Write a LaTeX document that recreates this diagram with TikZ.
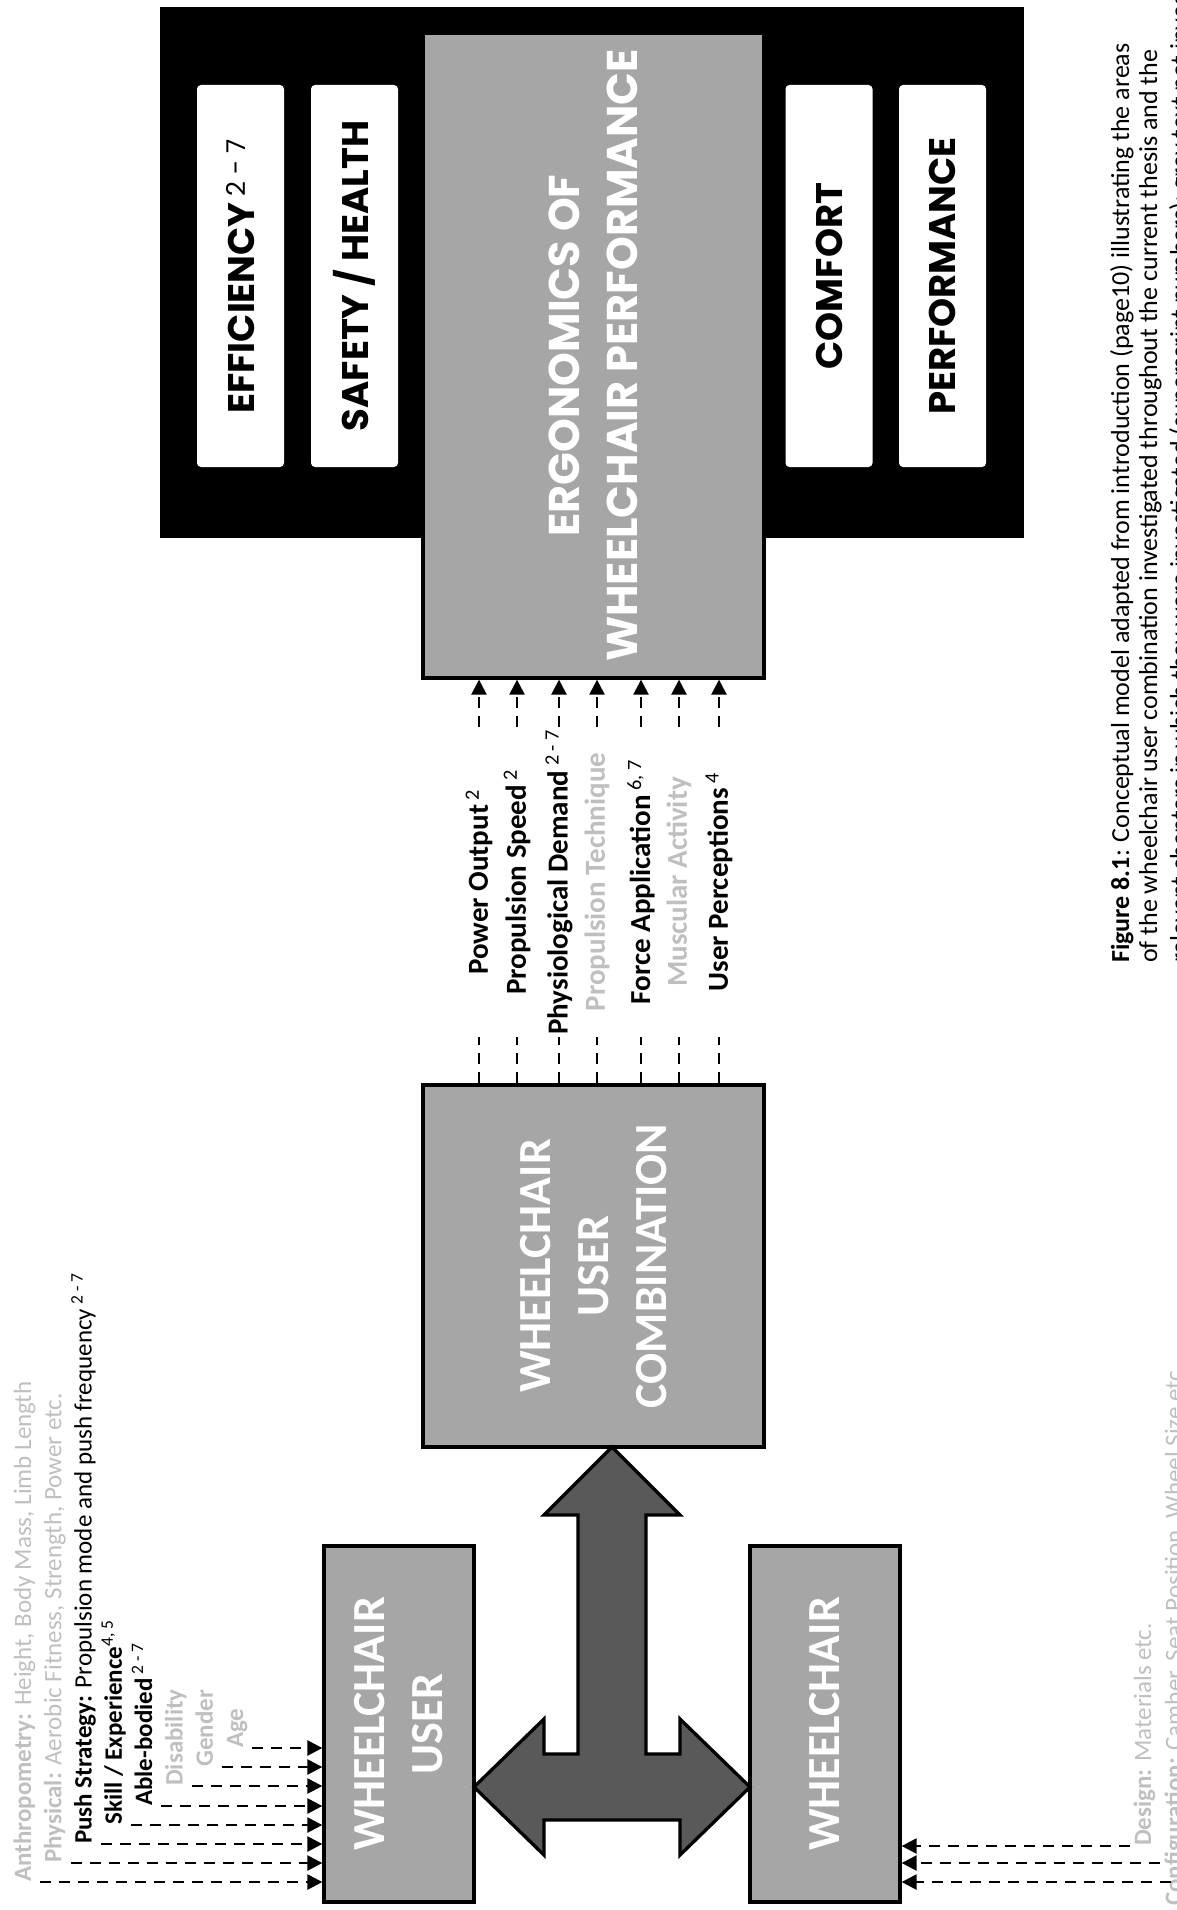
\documentclass[tikz,border=0pt]{standalone}
\usepackage{fontspec}
\setmainfont{Carlito}
\newfontfamily\geofont{Poppins}
\usepackage{tikz}
\usetikzlibrary{arrows.meta,positioning}
\definecolor{boxgrey}{HTML}{A6A6A6}
\definecolor{tgrey}{HTML}{595959}
\definecolor{faint}{HTML}{BFBFBF}
\tikzset{
  blk/.style={draw, line width=3.3pt, fill=boxgrey, text=white, rotate=90, inner sep=0pt, align=center, font=\fontsize{46}{58}\selectfont\bfseries},
  pane/.style={fill=white, rounded corners=4pt, rotate=90, inner sep=0pt, minimum width=382pt, minimum height=87pt, font=\geofont\fontsize{37}{44}\selectfont\bfseries},
  tag/.style={rotate=90, anchor=base west, inner sep=0pt, font=\fontsize{25}{30}\selectfont, execute at begin node=\strut},
  outc/.style={rotate=90, inner sep=0pt, minimum width=310pt, font=\fontsize{29}{34}\selectfont\bfseries},
  feed/.style={line width=2.5pt, dash pattern=on 11pt off 8pt, -{Triangle[length=15pt,width=15pt]}},
  stub/.style={line width=2.5pt, dash pattern=on 11pt off 8pt},
  capline/.style={rotate=90, anchor=base west, inner sep=0pt, font=\fontsize{26}{31}\selectfont}
}
\newcommand{\ssup}[1]{\,\textsuperscript{\mdseries #1}}

\begin{document}
\begin{tikzpicture}[x=1pt, y=-1pt]
\useasboundingbox (0,0) rectangle (1176,1910);
\clip (0,0) rectangle (1176,1910);
% outcomes
\node[fill=black, minimum width=864pt, minimum height=531pt, inner sep=0pt] (frame) at (592,272.5) {};
\node[pane] (eff) at (240.5,276) {EFFICIENCY\ssup{2 - 7}};
\node[pane] (safe) at (354.5,276) {SAFETY / HEALTH};
\node[pane] (comf) at (829,276) {COMFORT};
\node[pane] (perf) at (942.5,276) {PERFORMANCE};
\node[blk, minimum width=645pt, minimum height=341pt, font=\geofont\fontsize{43}{58}\selectfont\bfseries] (ergo) at (593.5,355.5) {ERGONOMICS OF\\WHEELCHAIR PERFORMANCE};
% measured outcomes
\node[outc] (pow) at (479,882) {Power Output\ssup{2}};
\node[outc] (spd) at (517,882) {Propulsion Speed\ssup{2}};
\node[outc] (phy) at (559,882) {Physiological Demand\ssup{2 - 7}};
\node[outc, text=faint] (tec) at (597,882) {Propulsion Technique};
\node[outc] (frc) at (641,882) {Force Application\ssup{6, 7}};
\node[outc, text=faint] (mus) at (679,882) {Muscular Activity};
\node[outc] (per) at (719,882) {User Perceptions\ssup{4}};
\node[blk, minimum width=362pt, minimum height=341pt] (comb) at (593.5,1266) {WHEELCHAIR\\USER\\COMBINATION};
\draw[feed] (pow.east) -- (pow.east |- ergo.west); \draw[feed] (spd.east) -- (spd.east |- ergo.west);
\draw[feed] (phy.east) -- (phy.east |- ergo.west); \draw[feed] (tec.east) -- (tec.east |- ergo.west);
\draw[feed] (frc.east) -- (frc.east |- ergo.west); \draw[feed] (mus.east) -- (mus.east |- ergo.west);
\draw[feed] (per.east) -- (per.east |- ergo.west);
\draw[stub] (pow.west |- comb.east) -- (pow.west); \draw[stub] (spd.west |- comb.east) -- (spd.west);
\draw[stub] (phy.west |- comb.east) -- (phy.west); \draw[stub] (tec.west |- comb.east) -- (tec.west);
\draw[stub] (frc.west |- comb.east) -- (frc.west); \draw[stub] (mus.west |- comb.east) -- (mus.west);
\draw[stub] (per.west |- comb.east) -- (per.west);
% user and chair
\node[blk, minimum width=356pt, minimum height=150pt] (wcu) at (399,1724) {WHEELCHAIR\\USER};
\node[blk, minimum width=356pt, minimum height=150pt] (wc) at (825,1724) {WHEELCHAIR};
\draw[line width=3.3pt, fill=tgrey, line join=miter] (612,1447) -- (680,1515) -- (646,1515) -- (646,1754) -- (680,1754) -- (680,1719)
  -- (750,1787) -- (680,1855) -- (680,1820) -- (544,1820) -- (544,1855) -- (474,1787) -- (544,1719) -- (544,1754)
  -- (578,1754) -- (578,1515) -- (544,1515) -- cycle;
% user factors
\node[tag, text=faint] (anth) at (31,1882) {\textbf{Anthropometry:} Height, Body Mass, Limb Length};
\node[tag, text=faint] (phys) at (61.3,1863) {\textbf{Physical:} Aerobic Fitness, Strength, Power etc.};
\node[tag] (push) at (91.6,1844) {\textbf{Push Strategy:} Propulsion mode and push frequency\ssup{2 - 7}};
\node[tag] (skil) at (121.9,1825) {\textbf{Skill / Experience}\textsuperscript{4, 5}};
\node[tag] (able) at (152.2,1806) {\textbf{Able-bodied}\ssup{2 - 7}};
\node[tag, text=faint] (disa) at (182.5,1786) {\textbf{Disability}};
\node[tag, text=faint] (gend) at (212.8,1767) {\textbf{Gender}};
\node[tag, text=faint] (age) at (243.1,1748) {\textbf{Age}};
\draw[feed] (anth.south west) -- (anth.south west -| wcu.north); \draw[feed] (phys.south west) -- (phys.south west -| wcu.north);
\draw[feed] (push.south west) -- (push.south west -| wcu.north); \draw[feed] (skil.south west) -- (skil.south west -| wcu.north);
\draw[feed] (able.south west) -- (able.south west -| wcu.north); \draw[feed] (disa.south west) -- (disa.south west -| wcu.north);
\draw[feed] (gend.south west) -- (gend.south west -| wcu.north); \draw[feed] (age.south west) -- (age.south west -| wcu.north);
% chair factors
\node[tag, text=faint] (dsgn) at (1151,1846) {\textbf{Design:} Materials etc.};
\node[tag, text=faint] (conf) at (1182,1906) {\textbf{Configuration:} Camber, Seat Position, Wheel Size etc.};
\coordinate (confin) at (1160,1863);
\coordinate (more) at (1190,1882);
\draw[feed] (dsgn.north west) -- (dsgn.north west -| wc.south); \draw[feed] (confin) -- (confin -| wc.south);
\draw[feed] (more) -- (more -| wc.south);
% caption
\node[capline] (cap1) at (1129,963) {\textbf{Figure 8.1}: Conceptual model adapted from introduction (page10) illustrating the areas};
\node[capline] (cap2) at (1157,963) {of the wheelchair user combination investigated throughout the current thesis and the};
\node[capline] (cap3) at (1188,963) {relevant chapters in which they were investigated (superscript numbers); grey text not investigated.};
\end{tikzpicture}
\end{document}
